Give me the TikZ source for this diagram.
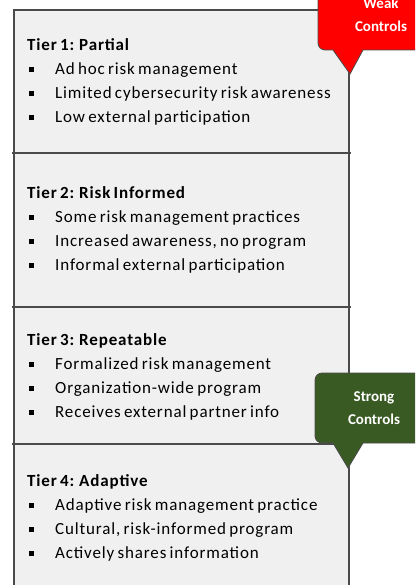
\documentclass[tikz,border=0pt]{standalone}
\usepackage{fontspec}
\setmainfont{Carlito}
\newfontfamily\itemfont[LetterSpace=5,WordSpace=0.7]{Carlito}
\definecolor{tierfill}{HTML}{F0F0F0}
\definecolor{tierline}{HTML}{4A4A4A}
\definecolor{weakred}{HTML}{FF0000}
\definecolor{stronggreen}{HTML}{3A5A24}
\begin{document}
\begin{tikzpicture}[x=1pt,y=-1pt,
  tierbox/.style={fill=tierfill,draw=none},
  tierrule/.style={draw=tierline,line width=1.5pt},
  tiertitle/.style={anchor=base west,inner sep=0,font=\itemfont\fontsize{17}{20}\selectfont\bfseries},
  tieritem/.style={anchor=base west,inner sep=0,font=\itemfont\fontsize{17}{20}\selectfont},
  bulletsq/.style={fill=black,minimum size=5pt,inner sep=0,draw=none},
  callout/.style={draw=tierline,line width=0.8pt},
  callouttext/.style={text=white,align=center,font=\fontsize{15}{23}\selectfont\bfseries}]
\useasboundingbox (0,0) rectangle (415,585);
\clip (0,0) rectangle (415,585);
% tier column
\fill[tierbox] (14,10) rectangle (349,590);
\draw[tierrule] (14,590) -- (14,10) -- (349,10) -- (349,590);
\draw[tierrule] (12,153) -- (351,153);
\draw[tierrule] (12,307) -- (351,307);
\draw[tierrule] (12,444) -- (351,444);
% texts
\node[tiertitle] (t1) at (27,51) {Tier 1: Partial};
\node[tiertitle] (t2) at (27,198) {Tier 2: Risk Informed};
\node[tiertitle] (t3) at (27,345) {Tier 3: Repeatable};
\node[tiertitle] (t4) at (27,486) {Tier 4: Adaptive};
\foreach \y/\txt/\nm in {
  75/{Ad hoc risk management}/a1,
  99/{Limited cybersecurity risk awareness}/a2,
  123/{Low external participation}/a3,
  222/{Some risk management practices}/b1,
  246/{Increased awareness, no program}/b2,
  270/{Informal external participation}/b3,
  369/{Formalized risk management}/c1,
  393/{Organization-wide program}/c2,
  417/{Receives external partner info}/c3,
  510/{Adaptive risk management practice}/d1,
  534/{Cultural, risk-informed program}/d2,
  558/{Actively shares information}/d3}{
  \node[bulletsq] (s\nm) at (31,\y-5) {};
  \node[tieritem] (\nm) at (55,\y) {\txt};
}
% weak callout
\draw[callout,fill=weakred] (363,50) -- (350,74) -- (333,50) [rounded corners=7pt] -- (318,50) -- (318,-12) [sharp corners] -- (425,-12) -- (425,50) -- cycle;
\node[callouttext] (weak) at (381,15) {Weak\\Controls};
% strong callout
\draw[callout,fill=stronggreen] (363,443) -- (348,468) -- (333,443) [rounded corners=7pt] -- (315,443) -- (315,373) -- (425,373) [sharp corners] -- (425,443) -- cycle;
\node[callouttext] (strong) at (374,408) {Strong\\Controls};
\end{tikzpicture}
\end{document}
